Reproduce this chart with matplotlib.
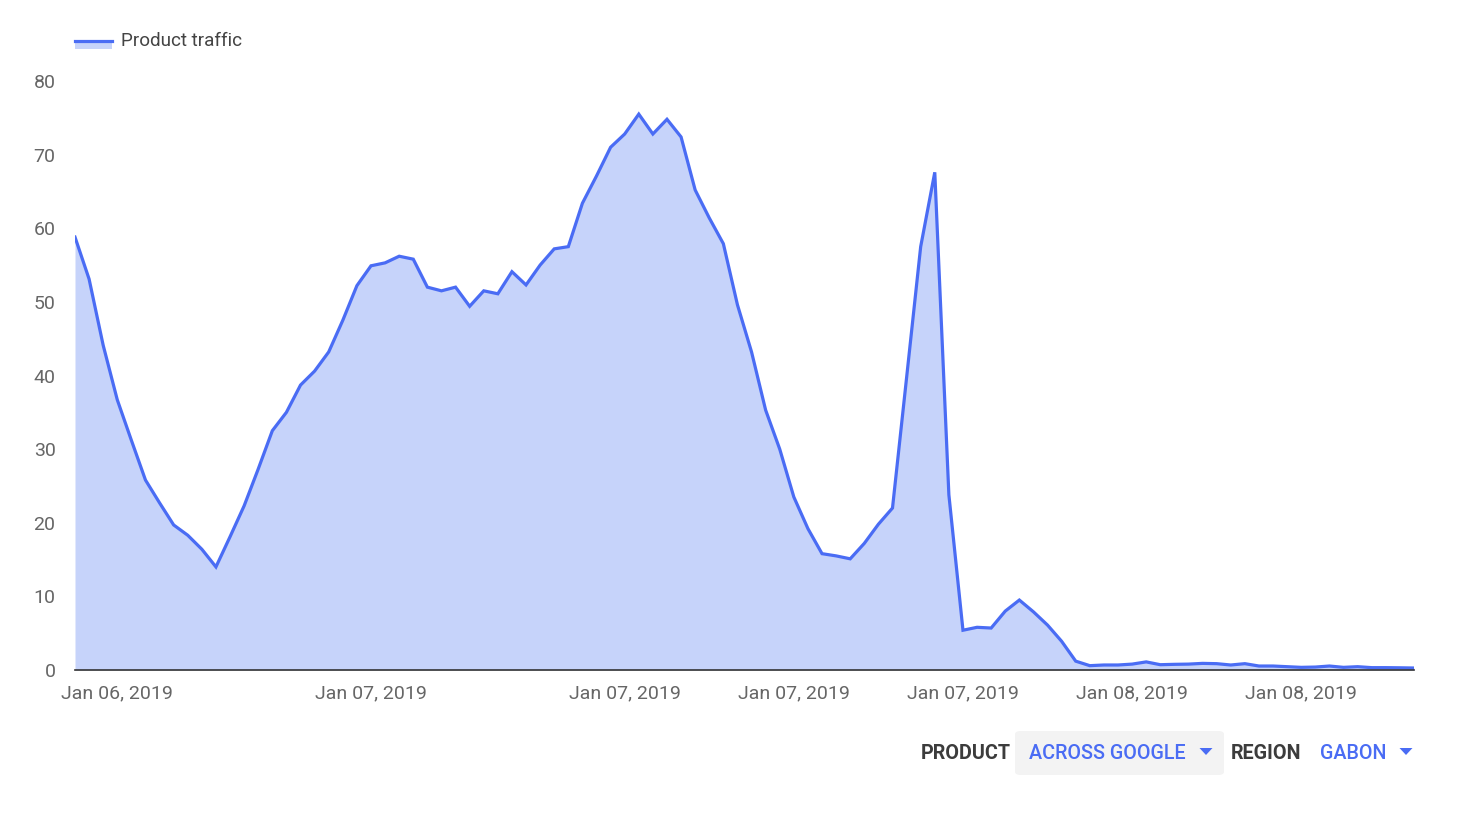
import matplotlib
matplotlib.use("Agg")
import matplotlib.pyplot as plt
from matplotlib.patches import Polygon, FancyBboxPatch, Rectangle
import numpy as np

# valeurs (pas horaire approx.)
traffic = [58.8, 53.1, 44.1, 36.7, 31.2, 25.8, 22.7, 19.7, 18.3, 16.4,
           14.0, 18.1, 22.3, 27.3, 32.5, 35.0, 38.7, 40.6, 43.2, 47.5,
           52.2, 54.9, 55.3, 56.2, 55.8, 52.0, 51.5, 52.0, 49.4, 51.5,
           51.1, 54.1, 52.3, 55.0, 57.2, 57.5, 63.4, 67.1, 71.0, 72.8,
           75.5, 72.8, 74.8, 72.4, 65.2, 61.4, 57.9, 49.6, 43.2, 35.3,
           30.0, 23.5, 19.2, 15.8, 15.5, 15.1, 17.2, 19.8, 22.0, 39.7,
           57.5, 67.6, 23.8, 5.4, 5.8, 5.7, 8.0, 9.5, 7.9, 6.1,
           3.9, 1.2, 0.59, 0.68, 0.68, 0.8, 1.1, 0.72, 0.77, 0.8,
           0.9, 0.86, 0.68, 0.86, 0.54, 0.54, 0.45, 0.36, 0.4, 0.54,
           0.36, 0.45, 0.32, 0.32, 0.3, 0.27]
tick_pos = [3, 21, 39, 51, 63, 75, 87]
tick_labels = ['Jan 06, 2019', 'Jan 07, 2019', 'Jan 07, 2019', 'Jan 07, 2019',
               'Jan 07, 2019', 'Jan 08, 2019', 'Jan 08, 2019']
y_ticks = [0, 10, 20, 30, 40, 50, 60, 70, 80]

plt.rcParams['font.family'] = ['Roboto', 'DejaVu Sans']

W, H = 1457, 813
line_c = '#4a6cf4'
fill_c = '#c6d3fa'
txt_c = '#666666'

def fx(px):
    return px / W

def fy(py):
    return 1 - py / H

fig = plt.figure(figsize=(W / 100, H / 100), dpi=100)
ax = fig.add_axes([fx(75), fy(670), fx(1414) - fx(75), fy(81) - fy(670)])

x = np.arange(len(traffic))
ax.fill_between(x, traffic, 0, color=fill_c, lw=0)
ax.plot(x, traffic, color=line_c, lw=2.3, solid_joinstyle='miter')

ax.set_xlim(0, len(traffic) - 1)
ax.set_ylim(0, 80)
ax.set_yticks(y_ticks)
ax.set_xticks(tick_pos)
ax.set_xticklabels(tick_labels)
ax.tick_params(axis='both', length=0, labelsize=14, labelcolor=txt_c)
ax.tick_params(axis='y', pad=14)
ax.tick_params(axis='x', pad=10)
for s in ['top', 'right', 'left']:
    ax.spines[s].set_visible(False)
ax.spines['bottom'].set_color('#333333')
ax.spines['bottom'].set_linewidth(1.2)

# légende
fig.patches.append(Rectangle((fx(75), fy(49)), fx(112) - fx(75), fy(41) - fy(49),
                             transform=fig.transFigure, color=fill_c, lw=0))
fig.lines.append(plt.Line2D([fx(75), fx(112)], [fy(41), fy(41)],
                            transform=fig.transFigure, color=line_c, lw=2.3))
fig.text(fx(121), fy(41), 'Product traffic', fontsize=13.6, color='#444444',
         va='center', ha='left')

# contrôles en bas
fig.patches.append(FancyBboxPatch((fx(1015), fy(775)), fx(1224) - fx(1015), fy(731) - fy(775),
                                  boxstyle='round,pad=0,rounding_size=0.004',
                                  transform=fig.transFigure, color='#f3f3f3', lw=0))
fs = 14.2
fig.text(fx(921), fy(753), 'PRODUCT', fontsize=fs, color='#3c3c3c',
         fontweight='bold', va='center', ha='left')
fig.text(fx(1029), fy(753), 'ACROSS GOOGLE', fontsize=fs, color=line_c,
         fontweight='medium', va='center', ha='left')
fig.text(fx(1231), fy(753), 'REGION', fontsize=fs, color='#3c3c3c',
         fontweight='bold', va='center', ha='left')
fig.text(fx(1320), fy(753), 'GABON', fontsize=fs, color=line_c,
         fontweight='medium', va='center', ha='left')
for cx in [1206, 1406]:
    fig.patches.append(Polygon([(fx(cx - 6.5), fy(748)), (fx(cx + 6.5), fy(748)),
                                (fx(cx), fy(755))], closed=True,
                               transform=fig.transFigure, color=line_c, lw=0))

fig.savefig('out.png', dpi=100)
